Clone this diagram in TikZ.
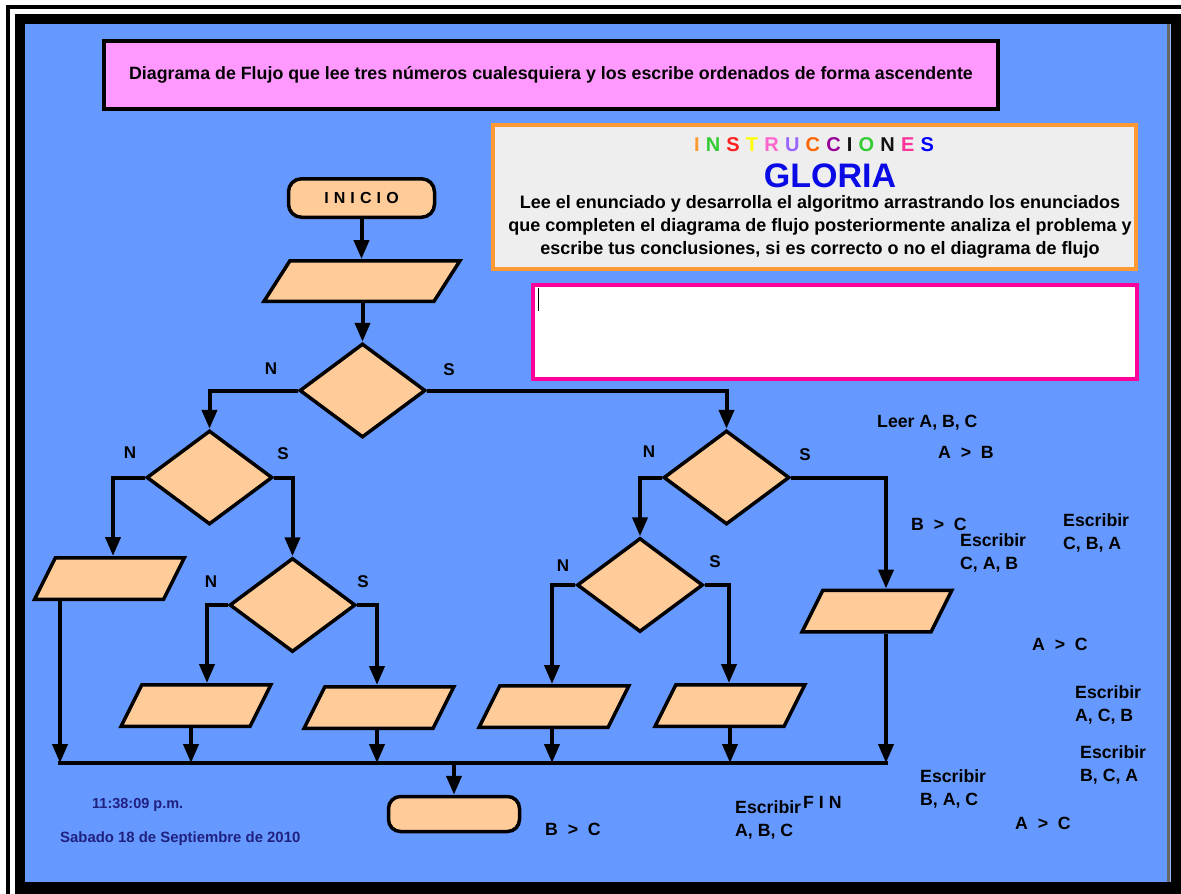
\documentclass[tikz,border=0pt]{standalone}
\usepackage{fontspec}
\setmainfont{Liberation Sans}
\usetikzlibrary{shapes.geometric,arrows.meta}

\definecolor{panel}{HTML}{6699FF}
\definecolor{shapefill}{HTML}{FFCC99}
\definecolor{titlepink}{HTML}{FF99FF}
\definecolor{instrgray}{HTML}{EEEEEE}
\definecolor{instrorange}{HTML}{FF9933}
\definecolor{answermag}{HTML}{FF0099}
\definecolor{navy}{HTML}{1F2080}
\definecolor{gloriablue}{HTML}{0A0AE6}

\newcommand{\lettercol}[2]{\textcolor[HTML]{#1}{#2}}
\newcommand{\lettergap}{\hspace{6.2pt}}

\tikzset{
  shapeline/.style={draw=black, line width=3.5pt, fill=shapefill},
  terminal/.style={shapeline, rectangle, rounded corners=13pt, inner sep=0pt,
    minimum width=146pt, minimum height=38.5pt},
  decision/.style={shapeline, diamond, inner sep=0pt, minimum width=126pt, minimum height=94pt},
  iobox/.style={shapeline, rectangle, xslant=#1, inner sep=0pt, minimum width=129pt, minimum height=41.5pt},
  iobox/.default=0.5,
  conn/.style={draw=black, line width=4pt, -{Triangle[length=19pt,width=15pt]}},
  busline/.style={draw=black, line width=4pt},
  branch/.style={font=\fontsize{17}{20}\selectfont\bfseries, inner sep=0pt},
  lbl/.style={font=\fontsize{17.7}{23}\selectfont\bfseries, inner sep=0pt, anchor=west, align=left},
  stamp/.style={font=\bfseries, text=navy, inner sep=0pt, anchor=west}
}

\begin{document}
\begin{tikzpicture}[x=1pt,y=-1pt]
  % window frame and panel
  \useasboundingbox (0,0) rectangle (1181,894);
  \fill[white] (0,0) rectangle (1181,894);
  \fill[black] (6,5) rectangle (1181,9);
  \fill[black] (6,5) rectangle (10,894);
  \fill[black] (15,14) rectangle (1181,894);
  \fill[panel] (25,24) rectangle (1171,882);
  \fill[gray!80!black] (1167,24) rectangle (1169.5,882);
  \fill[panel!70!white] (1169.5,24) rectangle (1171,882);

  % heading
  \node[draw=black, line width=4pt, fill=titlepink, minimum width=894pt, minimum height=68pt,
        inner sep=0pt, font=\fontsize{17.8}{20}\selectfont\bfseries] (title) at (551,75)
    {Diagrama de Flujo que lee tres números cualesquiera y los escribe ordenados de forma ascendente};

  % instructions panel
  \node[draw=instrorange, line width=4pt, fill=instrgray, minimum width=643pt, minimum height=144pt,
        inner sep=0pt] (instr) at (814.5,197) {};
  \node[font=\fontsize{20}{22}\selectfont\bfseries, inner sep=0pt] (instrhead) at (814,145)
    {\lettercol{FF9933}{I}\lettergap\lettercol{33CC33}{N}\lettergap\lettercol{FF2020}{S}\lettergap
     \lettercol{FFFF00}{T}\lettergap\lettercol{FF66CC}{R}\lettergap\lettercol{9966FF}{U}\lettergap
     \lettercol{FF6600}{C}\lettergap\lettercol{990099}{C}\lettergap\lettercol{111111}{I}\lettergap
     \lettercol{33CC33}{O}\lettergap\lettercol{111111}{N}\lettergap\lettercol{FF3399}{E}\lettergap
     \lettercol{0000FF}{S}};
  \node[font=\fontsize{34}{36}\selectfont\bfseries, text=gloriablue, inner sep=0pt] (gloria) at (830,176) {GLORIA};
  \node[font=\fontsize{18}{23}\selectfont\bfseries, align=center, inner sep=0pt] (instrtext) at (820,227)
    {Lee el enunciado y desarrolla el algoritmo arrastrando los enunciados\\
     que completen el diagrama de flujo posteriormente analiza el problema y\\
     escribe tus conclusiones, si es correcto o no el diagrama de flujo};

  % answer field
  \node[draw=answermag, line width=4pt, fill=white, minimum width=604pt, minimum height=94pt,
        inner sep=0pt] (answer) at (835,332) {};
  \draw[black, line width=1pt] ([xshift=7pt,yshift=-5pt]answer.north west) -- ([xshift=7pt,yshift=-28pt]answer.north west);

  % flowchart shapes
  \node[terminal, font=\fontsize{16}{18}\selectfont\bfseries\addfontfeatures{LetterSpace=32}] (inicio) at (361.5,198) {INICIO};
  \node[iobox=0.64, minimum width=170pt, minimum height=40.5pt] (p1) at (362,281) {};
  \node[decision] (d1) at (362.5,390.5) {};
  \node[decision] (d2) at (209.5,477.5) {};
  \node[decision] (d3) at (726.5,477.5) {};
  \node[decision] (d4) at (292.5,605) {};
  \node[decision] (d5) at (640,585) {};
  \node[iobox] (p2) at (109.5,578.5) {};
  \node[iobox] (p3) at (196,705.5) {};
  \node[iobox] (p4) at (379,707.5) {};
  \node[iobox] (p5) at (554,706.5) {};
  \node[iobox] (p6) at (730,705.5) {};
  \node[iobox] (p7) at (877,611) {};
  \node[terminal, minimum width=131pt, minimum height=35pt, rounded corners=12pt] (fin) at (454,814) {};

  % columns of the vertical connectors and the collector line
  \coordinate (inP2) at (113,0);   \coordinate (outP2) at (60,0);
  \coordinate (inP3) at (207,0);   \coordinate (outP3) at (191,0);
  \coordinate (inP4) at (377,0);   \coordinate (outP4) at (377,0);
  \coordinate (inP5) at (552,0);   \coordinate (outP5) at (552,0);
  \coordinate (inP6) at (729,0);   \coordinate (outP6) at (730,0);
  \coordinate (inP7) at (886,0);   \coordinate (outP7) at (886,0);
  \coordinate (busL) at (60,763);
  \coordinate (busR) at (886,763);

  % connectors
  \draw[conn] (inicio.south) -- (inicio.south |- p1.north);
  \draw[conn] (d1.north |- p1.south) -- (d1.north);
  \draw[conn] (d1.west) -| (d2.north);
  \draw[conn] (d1.east) -| (d3.north);
  \draw[conn] (d2.west) -| (inP2 |- p2.north);
  \draw[conn] (d2.east) -| (d4.north);
  \draw[conn] (d4.west) -| (inP3 |- p3.north);
  \draw[conn] (d4.east) -| (inP4 |- p4.north);
  \draw[conn] (d3.west) -| (d5.north);
  \draw[conn] (d3.east) -| (inP7 |- p7.north);
  \draw[conn] (d5.west) -| (inP5 |- p5.north);
  \draw[conn] (d5.east) -| (inP6 |- p6.north);

  \draw[conn] (outP2 |- p2.south) -- (busL);
  \draw[conn] (outP3 |- p3.south) -- (outP3 |- busL);
  \draw[conn] (outP4 |- p4.south) -- (outP4 |- busL);
  \draw[conn] (outP5 |- p5.south) -- (outP5 |- busL);
  \draw[conn] (outP6 |- p6.south) -- (outP6 |- busL);
  \draw[conn] (outP7 |- p7.south) -- (busR);
  \draw[busline] ([xshift=-2pt]busL) -- ([xshift=2pt]busR);
  \draw[conn] (fin.north |- busL) -- (fin.north);

  % branch labels
  \node[branch] (nA) at (271,369) {N};
  \node[branch] (sA) at (449,370) {S};
  \node[branch] (nB) at (130,453) {N};
  \node[branch] (sB) at (283,454) {S};
  \node[branch] (nC) at (211,582) {N};
  \node[branch] (sC) at (363,582) {S};
  \node[branch] (nD) at (649,452) {N};
  \node[branch] (sD) at (805,455) {S};
  \node[branch] (nE) at (563,566) {N};
  \node[branch] (sE) at (715,562) {S};

  % statements to drag into the chart
  \node[lbl] (t1) at (877,423) {Leer A, B, C};
  \node[lbl] (t2) at (938,452) {A~~>~~B};
  \node[lbl] (t3) at (911,524) {B~~>~~C};
  \node[lbl] (t4) at (960,553) {Escribir\\C, A, B};
  \node[lbl] (t5) at (1063,533) {Escribir\\C, B, A};
  \node[lbl] (t6) at (1032,644) {A~~>~~C};
  \node[lbl] (t7) at (1075,705) {Escribir\\A, C, B};
  \node[lbl] (t8) at (1080,765) {Escribir\\B, C, A};
  \node[lbl] (t9) at (920,789) {Escribir\\B, A, C};
  \node[lbl] (t10) at (1015,823) {A~~>~~C};
  \node[lbl] (t11) at (735,820) {Escribir\\A, B, C};
  \node[lbl] (t12) at (803,802) {F I N};
  \node[lbl] (t13) at (545,829) {B~~>~~C};

  % time and date
  \node[stamp, font=\fontsize{14.5}{17}\selectfont\bfseries] (clock) at (92,805) {11:38:09 p.m.};
  \node[stamp, font=\fontsize{14.9}{17}\selectfont\bfseries] (date) at (60,839) {Sabado 18 de Septiembre de 2010};
\end{tikzpicture}
\end{document}
